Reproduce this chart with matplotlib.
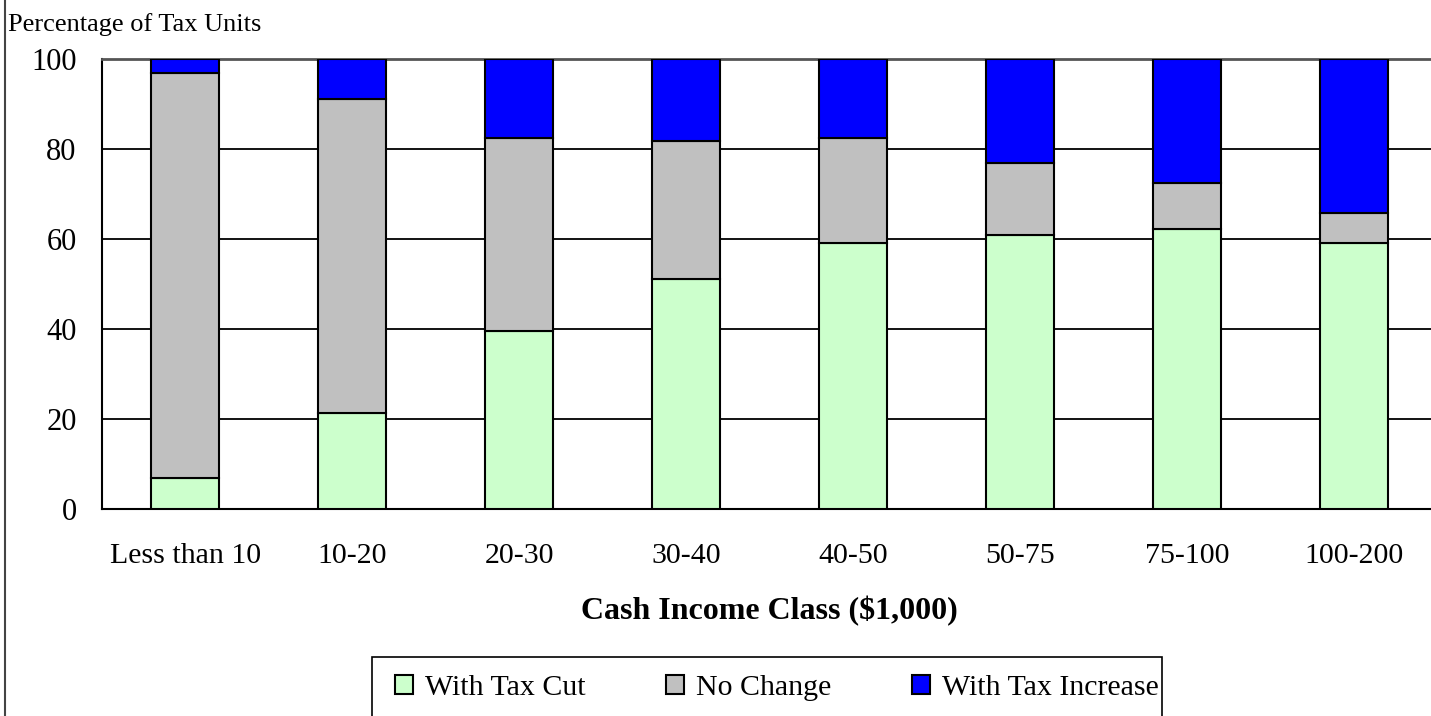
import numpy as np
import matplotlib
matplotlib.use("Agg")
import matplotlib.pyplot as plt
from matplotlib.lines import Line2D
from matplotlib.patches import Rectangle

# values (percent of tax units)
categories = ["Less than 10", "10-20", "20-30", "30-40", "40-50", "50-75", "75-100", "100-200"]
tax_cut = [7.0, 21.3, 39.6, 51.1, 59.1, 60.9, 62.2, 59.1]
no_change = [89.9, 69.8, 43.0, 30.7, 23.5, 16.0, 10.2, 6.7]
tax_increase = [3.1, 8.9, 17.4, 18.2, 17.4, 23.1, 27.6, 34.2]
series_names = ["With Tax Cut", "No Change", "With Tax Increase"]
yticks = [0, 20, 40, 60, 80, 100]

plt.rcParams['font.family'] = ['Liberation Serif', 'DejaVu Serif']

W, H = 1431, 716
fig = plt.figure(figsize=(W / 100, H / 100), dpi=100)
ax = fig.add_axes([0.0711, 0.2887, 0.9336, 0.6285])

x = np.arange(len(categories))
colors = ["#CCFFCC", "#C0C0C0", "#0000FF"]
bottom = np.zeros(len(categories))
for vals, name, col in zip([tax_cut, no_change, tax_increase], series_names, colors):
    ax.bar(x, vals, width=0.405, bottom=bottom, color=col, edgecolor="black",
           linewidth=1.5, label=name, zorder=3)
    bottom += np.array(vals)

ax.set_xlim(-0.5, len(categories) - 0.5)
ax.set_ylim(0, 100)
ax.set_yticks(yticks)
ax.set_yticklabels([str(t) for t in yticks], fontsize=22)
ax.set_xticks(x)
ax.set_xticklabels(categories, fontsize=21.5)
ax.tick_params(axis="both", length=0)
ax.tick_params(axis="y", pad=18)
ax.tick_params(axis="x", pad=24)
ax.yaxis.grid(True, color="black", linewidth=1.3, zorder=0)
ax.set_axisbelow(True)

for side in ["left", "bottom"]:
    ax.spines[side].set_linewidth(1.5)
    ax.spines[side].set_color("black")
ax.spines["top"].set_color("#555555")
ax.spines["top"].set_linewidth(2)
ax.spines["right"].set_visible(False)

ax.set_xlabel("Cash Income Class ($1,000)", fontsize=23, fontweight="bold", labelpad=20)

fig.text(8 / W, 1 - 25 / H, "Percentage of Tax Units", fontsize=19,
         ha="left", va="center")

# outer border on the left edge
fig.add_artist(Line2D([5 / W, 5 / W], [0, 1], color="#444444", linewidth=1.5,
                      transform=fig.transFigure))

# legend box (runs off the bottom edge like the original)
fig.add_artist(Rectangle((372 / W, -0.05), (1162 - 372) / W, 0.05 + 59 / H,
                         fill=False, edgecolor="black", linewidth=1.2,
                         transform=fig.transFigure))

handles, labels = ax.get_legend_handles_labels()
leg = fig.legend(handles, labels, loc="center left",
                 bbox_to_anchor=(395 / W, 1 - 688 / H), ncol=3, fontsize=21.5,
                 frameon=False, handlelength=0.6, handleheight=0.6, handletextpad=0.4,
                 columnspacing=2.7, borderpad=0, borderaxespad=0)

fig.savefig("out.png", dpi=100)
